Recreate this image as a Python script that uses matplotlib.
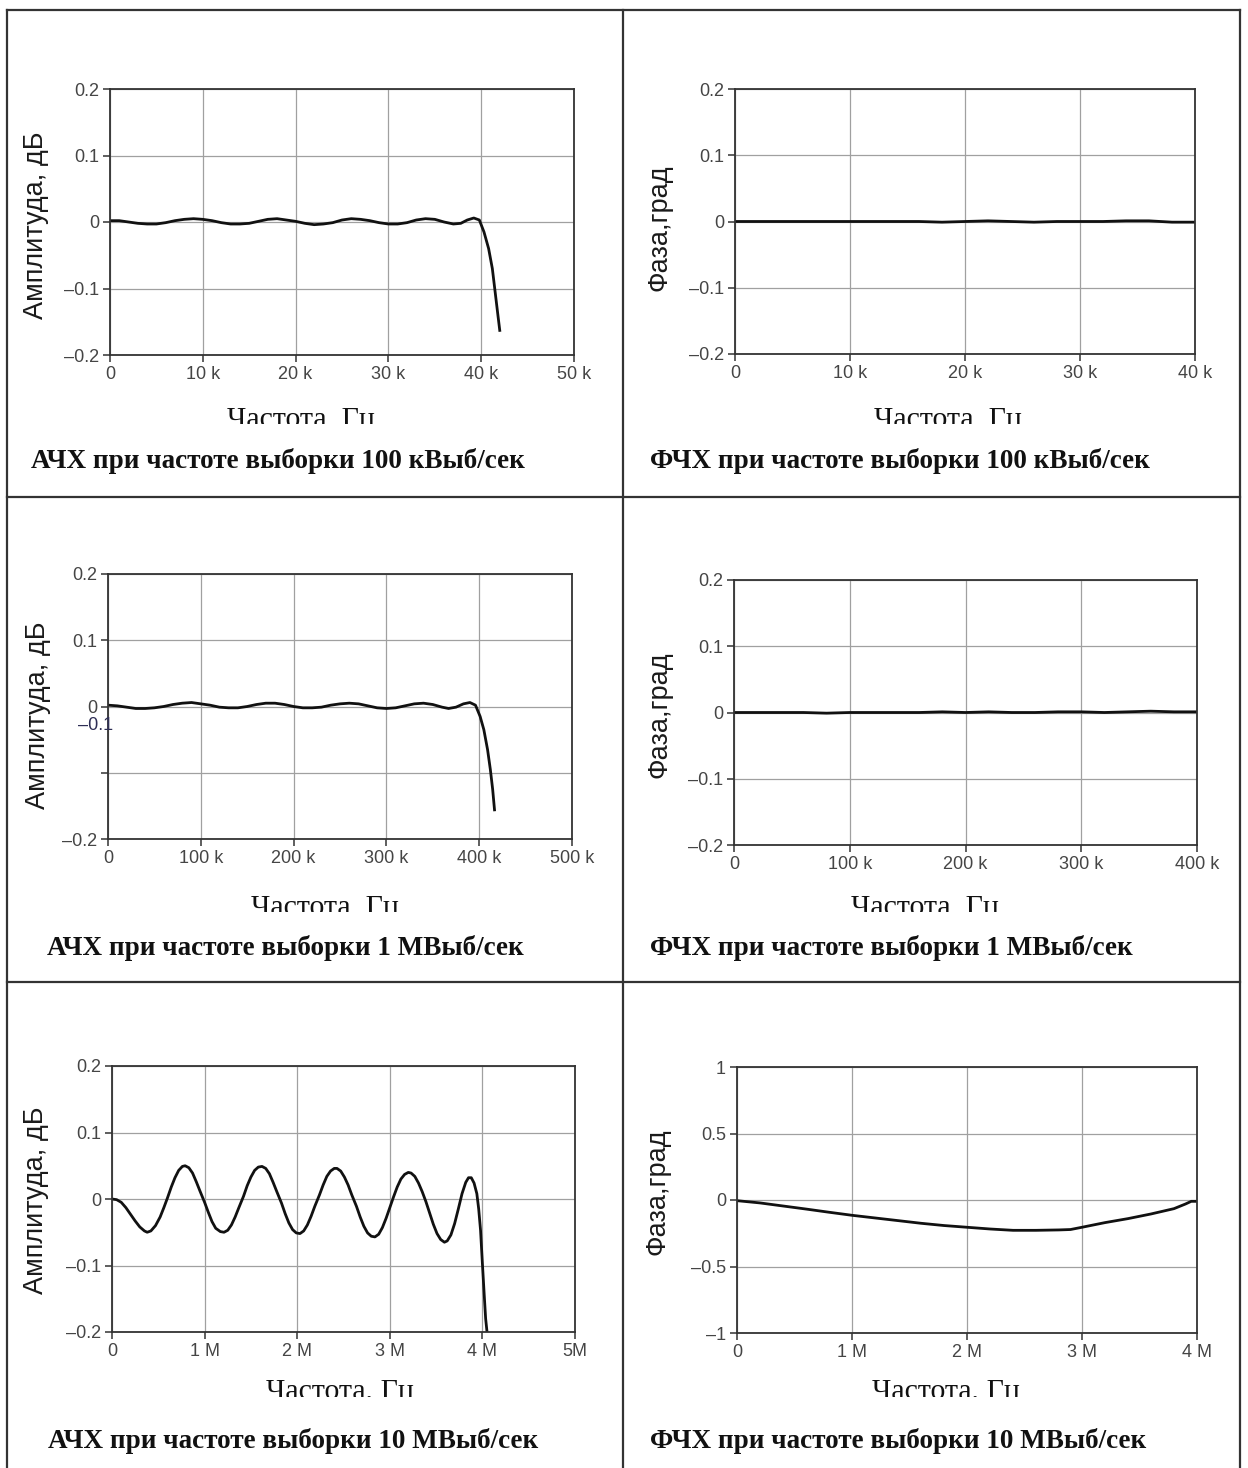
import matplotlib
matplotlib.use("Agg")
import matplotlib.pyplot as plt
from matplotlib.lines import Line2D
from matplotlib.patches import Rectangle

W, H = 1248, 1468
SANS = ["Liberation Sans", "DejaVu Sans"]
SERIF = ["Liberation Serif", "DejaVu Serif"]

# --- АЧХ, 100 кВыб/сек (частота в кГц, амплитуда в дБ)
amp100k_f = [0, 1, 2, 3, 4, 5, 6, 7, 8, 9, 10, 11, 12, 13, 14, 15, 16, 17, 18, 19,
             20, 21, 22, 23, 24, 25, 26, 27, 28, 29, 30, 31, 32, 33, 34, 35, 36, 37,
             37.8, 38.5, 39.2, 39.8, 40.3, 40.8, 41.2, 41.5, 41.8, 42.0]
amp100k_db = [0.002, 0.002, 0.000, -0.002, -0.003, -0.003, -0.001, 0.002, 0.004, 0.005,
              0.004, 0.002, -0.001, -0.003, -0.003, -0.002, 0.001, 0.004, 0.005, 0.003,
              0.001, -0.002, -0.004, -0.003, -0.001, 0.003, 0.005, 0.004, 0.002, -0.001,
              -0.003, -0.003, -0.001, 0.003, 0.005, 0.004, 0.000, -0.003,
              -0.002, 0.003, 0.006, 0.003, -0.015, -0.040, -0.070, -0.105, -0.140, -0.163]

# --- ФЧХ, 100 кВыб/сек
ph100k_f = [0, 2, 4, 6, 8, 10, 12, 14, 16, 18, 20, 22, 24, 26, 28, 30, 32, 34, 36, 38, 40]
ph100k_deg = [0, 0, 0, 0, 0, 0, 0, 0, 0, -0.001, 0.0, 0.001, 0.0, -0.001, 0.0,
              0.0, 0.0, 0.001, 0.001, -0.001, -0.001]

# --- АЧХ, 1 МВыб/сек
amp1m_f = [0, 10, 20, 30, 40, 50, 60, 70, 80, 90, 100, 110, 120, 130, 140, 150, 160,
           170, 180, 190, 200, 210, 220, 230, 240, 250, 260, 270, 280, 290, 300, 310,
           320, 330, 340, 350, 360, 367, 375, 383, 390, 396, 401, 405, 409, 412, 414.5, 416.5]
amp1m_db = [0.002, 0.001, -0.001, -0.003, -0.003, -0.002, 0.000, 0.003, 0.005, 0.006,
            0.004, 0.002, -0.001, -0.002, -0.002, 0.000, 0.003, 0.005, 0.005, 0.003,
            0.000, -0.002, -0.002, -0.001, 0.002, 0.004, 0.005, 0.004, 0.001, -0.002,
            -0.003, -0.002, 0.001, 0.004, 0.005, 0.003, -0.001, -0.003, -0.001, 0.004,
            0.006, 0.002, -0.015, -0.035, -0.065, -0.095, -0.125, -0.156]

# --- ФЧХ, 1 МВыб/сек
ph1m_f = [0, 20, 40, 60, 80, 100, 120, 140, 160, 180, 200, 220, 240, 260, 280, 300,
          320, 340, 360, 380, 400]
ph1m_deg = [0, 0, 0, 0, -0.001, 0, 0, 0, 0, 0.001, 0, 0.001, 0, 0, 0.001, 0.001,
            0, 0.001, 0.002, 0.001, 0.001]

# --- АЧХ, 10 МВыб/сек (частота в МГц)
amp10m_f = [0.00, 0.05, 0.10, 0.15, 0.20, 0.25, 0.30, 0.35, 0.38, 0.42, 0.47, 0.52, 0.56,
            0.60, 0.64, 0.68, 0.72, 0.76, 0.79, 0.83, 0.87, 0.91, 0.95, 1.00, 1.04, 1.08,
            1.12, 1.17, 1.21, 1.25, 1.29, 1.33, 1.37, 1.42, 1.46, 1.50, 1.54, 1.58, 1.62,
            1.66, 1.70, 1.74, 1.78, 1.83, 1.87, 1.91, 1.95, 1.99, 2.03, 2.07, 2.11, 2.15,
            2.19, 2.24, 2.28, 2.32, 2.36, 2.40, 2.43, 2.47, 2.51, 2.55, 2.59, 2.64, 2.68,
            2.72, 2.76, 2.80, 2.84, 2.88, 2.92, 2.96, 3.00, 3.04, 3.08, 3.12, 3.16, 3.20,
            3.23, 3.27, 3.31, 3.35, 3.39, 3.43, 3.47, 3.51, 3.55, 3.59, 3.62, 3.66, 3.70,
            3.74, 3.78, 3.82, 3.85, 3.88, 3.91, 3.94, 3.96, 3.98, 4.00, 4.02, 4.035, 4.05]
amp10m_db = [0.000, -0.001, -0.005, -0.013, -0.023, -0.033, -0.042, -0.048, -0.050, -0.048,
             -0.040, -0.027, -0.013, 0.002, 0.018, 0.032, 0.043, 0.049, 0.050, 0.047,
             0.039, 0.026, 0.012, -0.005, -0.020, -0.034, -0.044, -0.049, -0.050, -0.047,
             -0.039, -0.027, -0.013, 0.004, 0.020, 0.033, 0.043, 0.048, 0.049, 0.046,
             0.038, 0.025, 0.011, -0.006, -0.022, -0.036, -0.046, -0.051, -0.052, -0.048,
             -0.039, -0.026, -0.011, 0.006, 0.021, 0.034, 0.042, 0.046, 0.046, 0.042,
             0.033, 0.021, 0.006, -0.011, -0.027, -0.041, -0.051, -0.056, -0.057, -0.053,
             -0.043, -0.029, -0.013, 0.003, 0.018, 0.030, 0.037, 0.040, 0.039, 0.034,
             0.024, 0.011, -0.004, -0.021, -0.038, -0.052, -0.061, -0.065, -0.063, -0.054,
             -0.037, -0.015, 0.008, 0.025, 0.032, 0.032, 0.024, 0.008, -0.015, -0.047,
             -0.097, -0.145, -0.180, -0.200]

# --- ФЧХ, 10 МВыб/сек
ph10m_f = [0.0, 0.2, 0.4, 0.6, 0.8, 1.0, 1.2, 1.4, 1.6, 1.8, 2.0, 2.2, 2.4, 2.6, 2.8,
           2.9, 3.0, 3.2, 3.4, 3.6, 3.7, 3.8, 3.9, 3.95, 4.0]
ph10m_deg = [-0.005, -0.022, -0.045, -0.068, -0.092, -0.115, -0.135, -0.155, -0.175,
             -0.192, -0.205, -0.218, -0.228, -0.228, -0.225, -0.222, -0.205, -0.170,
             -0.140, -0.105, -0.085, -0.065, -0.030, -0.010, -0.010]

yticks_small = [0.2, 0.1, 0, -0.1, -0.2]
ylabels_small = ["0.2", "0.1", "0", "–0.1", "–0.2"]
yticks_big = [1, 0.5, 0, -0.5, -1]
ylabels_big = ["1", "0.5", "0", "–0.5", "–1"]

xt_50k = [0, 10, 20, 30, 40, 50]
xl_50k = ["0", "10 k", "20 k", "30 k", "40 k", "50 k"]
xt_40k = [0, 10, 20, 30, 40]
xl_40k = ["0", "10 k", "20 k", "30 k", "40 k"]
xt_500k = [0, 100, 200, 300, 400, 500]
xl_500k = ["0", "100 k", "200 k", "300 k", "400 k", "500 k"]
xt_400k = [0, 100, 200, 300, 400]
xl_400k = ["0", "100 k", "200 k", "300 k", "400 k"]
xt_5m = [0, 1, 2, 3, 4, 5]
xl_5m = ["0", "1 M", "2 M", "3 M", "4 M", "5M"]
xt_4m = [0, 1, 2, 3, 4]
xl_4m = ["0", "1 M", "2 M", "3 M", "4 M"]

captions = [
    "АЧХ при частоте выборки 100 кВыб/сек", "ФЧХ при частоте выборки 100 кВыб/сек",
    "АЧХ при частоте выборки 1 МВыб/сек", "ФЧХ при частоте выборки 1 МВыб/сек",
    "АЧХ при частоте выборки 10 МВыб/сек", "ФЧХ при частоте выборки 10 МВыб/сек",
]

fig = plt.figure(figsize=(W / 100, H / 100), dpi=100, facecolor="white")


def fx(x):
    return x / W


def fy(y):
    return 1 - y / H


def panel(box, f, v, xt, xl, yt, yl, ylabel, ylab_xy):
    x0, y0, x1, y1 = box
    ax = fig.add_axes([fx(x0), fy(y1), (x1 - x0) / W, (y1 - y0) / H])
    ax.plot(f, v, color="#111111", lw=2.0, solid_joinstyle="round")
    ax.set_xlim(xt[0], xt[-1])
    ax.set_ylim(yt[-1], yt[0])
    ax.set_xticks(xt)
    ax.set_xticklabels(xl)
    ax.set_yticks(yt)
    ax.set_yticklabels(yl)
    ax.grid(True, color="#a0a0a0", lw=0.9)
    ax.set_axisbelow(True)
    for s in ax.spines.values():
        s.set_color("#333333")
        s.set_linewidth(1.3)
    ax.tick_params(direction="out", length=5, width=1.1, color="#333333",
                   labelcolor="#454545", labelsize=13, pad=3)
    for t in ax.get_xticklabels() + ax.get_yticklabels():
        t.set_family(SANS)
    fig.text(fx(ylab_xy[0]), fy(ylab_xy[1]), ylabel, rotation=90, ha="center",
             va="center", fontsize=19.5, family=SANS, color="#1a1a1a")
    return ax


# левая колонка — АЧХ, правая — ФЧХ
ax1 = panel((110, 89, 574, 355), amp100k_f, amp100k_db, xt_50k, xl_50k,
            yticks_small, ylabels_small, "Амплитуда, дБ", (36, 225))
ax2 = panel((735, 89, 1195, 354), ph100k_f, ph100k_deg, xt_40k, xl_40k,
            yticks_small, ylabels_small, "Фаза,град", (660, 228))
ax3 = panel((108, 574, 572, 839), amp1m_f, amp1m_db, xt_500k, xl_500k,
            yticks_small, ["0.2", "0.1", "0", "", "–0.2"], "Амплитуда, дБ", (38, 715))
ax4 = panel((734, 580, 1197, 845), ph1m_f, ph1m_deg, xt_400k, xl_400k,
            yticks_small, ylabels_small, "Фаза,град", (660, 715))
ax5 = panel((112, 1066, 575, 1332), amp10m_f, amp10m_db, xt_5m, xl_5m,
            yticks_small, ylabels_small, "Амплитуда, дБ", (36, 1200))
ax6 = panel((737, 1067, 1197, 1333), ph10m_f, ph10m_deg, xt_4m, xl_4m,
            yticks_big, ylabels_big, "Фаза,град", (658, 1192))

# сдвинутая подпись -0.1 на среднем графике АЧХ
ax3.text(0.012, 0.43, "–0.1", transform=ax3.transAxes, ha="right", va="center",
         fontsize=13, family=SANS, color="#2e2e55")

# подписи оси частот (низ строки обрезан)
xlab = [(301, 426), (948, 426), (325, 914), (925, 914), (340, 1399), (946, 1399)]
for cx, base in xlab:
    fig.text(fx(cx), fy(base), "Частота, Гц", ha="center", va="baseline",
             fontsize=21.5, family=SERIF, color="#111111")
    fig.add_artist(Rectangle((fx(cx - 110), fy(base + 12)), 220 / W, 14 / H,
                             transform=fig.transFigure, facecolor="white",
                             edgecolor="none", zorder=10))

# подписи ячеек
cap_pos = [(31, 468), (650, 468), (47, 955), (650, 955), (48, 1448), (650, 1448)]
for (cx, cy), txt in zip(cap_pos, captions):
    fig.text(fx(cx), fy(cy), txt, ha="left", va="baseline", fontsize=19.5,
             fontweight="bold", family=SERIF, color="#111111", zorder=11)

# рамка таблицы
tbl = dict(color="#333333", lw=1.6, transform=fig.transFigure, zorder=12)
for x0, y0, x1, y1 in [(7, 10, 1240, 10), (7, 497, 1240, 497), (7, 982, 1240, 982),
                       (7, 10, 7, H), (623, 10, 623, H), (1240, 10, 1240, H)]:
    fig.add_artist(Line2D([fx(x0), fx(x1)], [fy(y0), fy(y1)], **tbl))

fig.savefig("out.png", dpi=100, facecolor="white")
